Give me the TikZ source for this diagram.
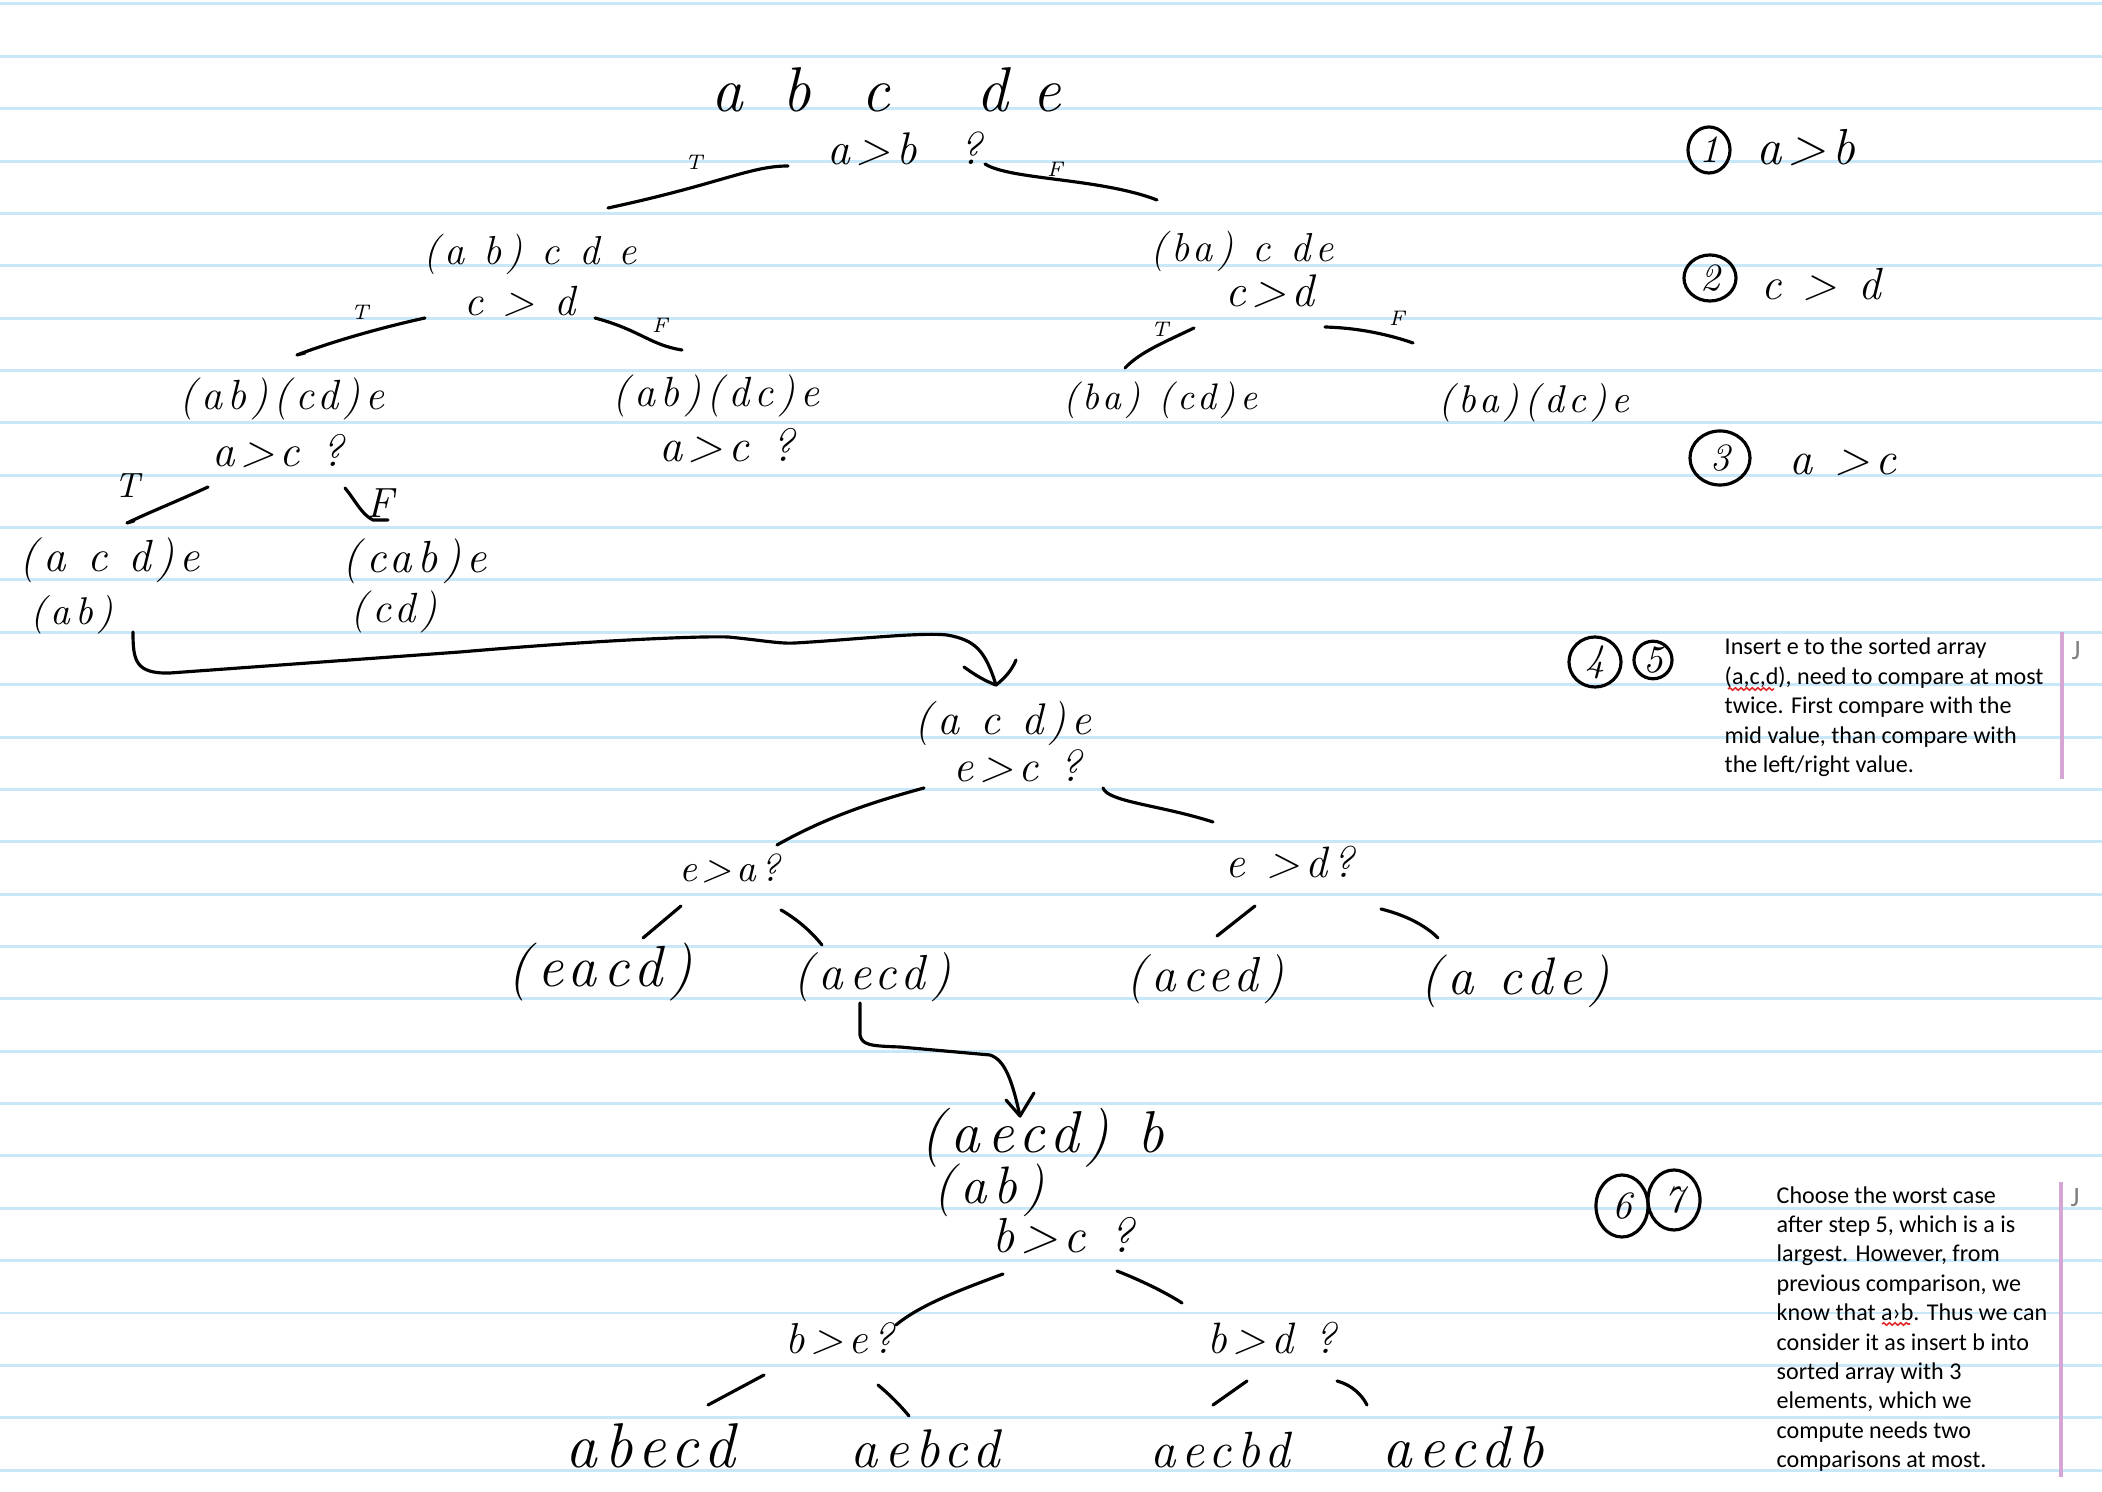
\documentclass[tikz,border=0pt]{standalone}
\usepackage{fontspec}
\newfontfamily\hand[LetterSpace=12]{Latin Modern Roman}
\newfontfamily\notefont{Carlito}
\usetikzlibrary{shapes.geometric,decorations.pathmorphing}
\definecolor{rulecol}{RGB}{200,232,250}
\definecolor{pinkbar}{RGB}{214,166,210}
\definecolor{squig}{RGB}{225,40,40}
\newcommand\hsz[1]{\hand\itshape\fontsize{#1}{#1}\selectfont}
\begin{document}
\begin{tikzpicture}[x=0.01cm,y=-0.01cm,
  hw/.style={inner sep=0pt,anchor=base},
  pen/.style={line width=0.9pt,line cap=round,line join=round},
  rule/.style={rulecol,line width=0.85pt},
  circnum/.style={draw,ellipse,line width=0.9pt,inner sep=0pt,font=\hsz{11}},
  tf/.style={inner sep=0pt,anchor=base,font=\hsz{6}},
  note/.style={inner sep=0pt,anchor=base west,align=left,font=\notefont\fontsize{6.85}{8.36}\selectfont},
  jmark/.style={inner sep=0pt,anchor=base,text=gray,font=\notefont\fontsize{8}{9}\selectfont},
  bar/.style={pinkbar,line width=1.4pt},
  wavy/.style={squig,line width=0.45pt,decorate,decoration={snake,amplitude=0.35pt,segment length=1.6pt}}]
\useasboundingbox (0,0) rectangle (2102,1492);
\fill[white] (0,0) rectangle (2102,1492);
% ruled paper
\foreach \k in {0,...,28} \draw[rule] (0,{4+52.36*\k}) -- (2102,{4+52.36*\k});

% ---------- tree text ----------
\node[hw,anchor=base west,font=\hsz{18}] (top) at (711,112) {a\hspace{3.9mm}b\hspace{5.1mm}c\hspace{8.6mm}d\hspace{2.4mm}e};
\node[hw,font=\hsz{13}] (q1) at (905,165) {a>b\ \ ?};
\node[hw,font=\hsz{11.5}] (L1) at (530,265) {(a b) c d e};
\node[hw,font=\hsz{12}] (q2) at (520,316) {c > d};
\node[hw,font=\hsz{11.5}] (R1) at (1242,262) {(ba) c de};
\node[hw,font=\hsz{13}] (q3) at (1270,307) {c>d};
\node[hw,font=\hsz{12}] (LL) at (282,410) {(ab)(cd)e};
\node[hw,font=\hsz{12.8}] (q4) at (278,467) {a>c ?};
\node[hw,font=\hsz{12}] (LR) at (716,407) {(ab)(dc)e};
\node[hw,font=\hsz{13.2}] (q5) at (727,462) {a>c ?};
\node[hw,font=\hsz{10.5}] (RL) at (1160,410) {(ba) (cd)e};
\node[hw,font=\hsz{11}] (RR) at (1534,413) {(ba)(dc)e};
\node[hw,font=\hsz{12.8}] (LLL) at (110,572) {(a c d)e};
\node[hw,font=\hsz{11}] (LLLb) at (72,625) {(ab)};
\node[hw,font=\hsz{12.8}] (LLR) at (415,573) {(cab)e};
\node[hw,font=\hsz{12}] (LLRb) at (394,623) {(cd)};
\node[hw,font=\hsz{12.6}] (M) at (1003,735) {(a c d)e};
\node[hw,font=\hsz{12.7}] (q6) at (1018,782) {e>c ?};
\node[hw,font=\hsz{11}] (q7) at (730,882) {e>a?};
\node[hw,font=\hsz{12.5}] (q8) at (1290,878) {e >d?};
\node[hw,font=\hsz{16.5}] (m1) at (600,987) {(eacd)};
\node[hw,font=\hsz{14}] (m2) at (872,990) {(aecd)};
\node[hw,font=\hsz{14}] (m3) at (1205,992) {(aced)};
\node[hw,font=\hsz{15}] (m4) at (1515,995) {(a cde)};
\node[hw,font=\hsz{16.8}] (B) at (1042,1153) {(aecd) b};
\node[hw,font=\hsz{15}] (Bb) at (989,1204) {(ab)};
\node[hw,font=\hsz{14}] (q9) at (1063,1253) {b>c ?};
\node[hw,font=\hsz{12.3}] (q10) at (840,1354) {b>e?};
\node[hw,font=\hsz{12.5}] (q11) at (1272,1354) {b>d ?};
\node[hw,font=\hsz{18}] (l1) at (650,1468) {abecd};
\node[hw,font=\hsz{15.5}] (l2) at (925,1468) {aebcd};
\node[hw,font=\hsz{14.5}] (l3) at (1220,1468) {aecbd};
\node[hw,font=\hsz{16.8}] (l4) at (1463,1468) {aecdb};

% T / F labels
\node[tf] (t1) at (694,170) {T};
\node[tf] (f1) at (1055,177) {F};
\node[tf] (t2) at (360,320) {T};
\node[tf] (f2) at (660,333) {F};
\node[tf] (t3) at (1160,337) {T};
\node[tf] (f3) at (1397,326) {F};
\node[tf,font=\hsz{10}] (t4) at (127,498) {T};
\node[tf,font=\hsz{12}] (f4) at (380,518) {F};

% ---------- strokes ----------
\coordinate (a1) at (788,166); \coordinate (a2) at (608,208);
\coordinate (b1) at (985,164); \coordinate (b2) at (1157,200);
\coordinate (c1) at (425,318); \coordinate (c2) at (297,355);
\coordinate (d1) at (595,318); \coordinate (d2) at (682,350);
\coordinate (e1) at (1194,328); \coordinate (e2) at (1125,368);
\coordinate (g1) at (1325,327); \coordinate (g2) at (1413,343);
\coordinate (h1) at (208,487); \coordinate (h2) at (127,523);
\coordinate (i1) at (345,488); \coordinate (i2) at (373,520);
\coordinate (j1) at (924,788); \coordinate (j2) at (777,845);
\coordinate (k1) at (1103,788); \coordinate (k2) at (1213,822);
\coordinate (m1a) at (681,906); \coordinate (m1b) at (643,938);
\coordinate (n1) at (781,910); \coordinate (n2) at (822,945);
\coordinate (o1) at (1255,906); \coordinate (o2) at (1217,936);
\coordinate (p1) at (1381,909); \coordinate (p2) at (1438,938);
\coordinate (r1a) at (1003,1274); \coordinate (r1b) at (896,1325);
\coordinate (s1) at (1117,1271); \coordinate (s2) at (1182,1303);
\coordinate (u1) at (764,1375); \coordinate (u2) at (708,1405);
\coordinate (v1) at (878,1385); \coordinate (v2) at (909,1416);
\coordinate (w1) at (1247,1381); \coordinate (w2) at (1213,1405);
\coordinate (z1) at (1337,1381); \coordinate (z2) at (1367,1405);

\draw[pen] (a1) .. controls (750,166) and (720,184) .. (a2);
\draw[pen] (b1) .. controls (1010,180) and (1100,178) .. (b2);
\draw[pen] (c1) .. controls (370,330) and (320,346) .. (c2) -- (305,353);
\draw[pen] (d1) .. controls (640,330) and (650,345) .. (d2);
\draw[pen] (e1) .. controls (1165,342) and (1140,352) .. (e2);
\draw[pen] (g1) .. controls (1360,328) and (1390,335) .. (g2);
\draw[pen] (h1) .. controls (180,500) and (150,512) .. (h2) -- (134,521);
\draw[pen] (i1) .. controls (355,500) and (362,515) .. (i2) -- (388,520);
\draw[pen] (j1) .. controls (880,800) and (830,815) .. (j2);
\draw[pen] (k1) .. controls (1108,802) and (1160,805) .. (k2);
\draw[pen] (m1a) -- (m1b);
\draw[pen] (n1) .. controls (795,918) and (810,930) .. (n2);
\draw[pen] (o1) -- (o2);
\draw[pen] (p1) .. controls (1405,915) and (1425,925) .. (p2);
\draw[pen] (r1a) .. controls (960,1290) and (920,1305) .. (r1b);
\draw[pen] (s1) .. controls (1140,1280) and (1165,1292) .. (s2);
\draw[pen] (u1) -- (u2);
\draw[pen] (v1) .. controls (890,1395) and (900,1405) .. (v2);
\draw[pen] (w1) -- (w2);
\draw[pen] (z1) .. controls (1352,1385) and (1362,1395) .. (z2);

% long arrow from (ab) to (a c d)e
\coordinate (A0) at (133,632);
\coordinate (A1) at (996,685);
\draw[pen] (A0) .. controls (133,660) and (135,674) .. (170,673)
  -- (460,652) .. controls (600,640) and (700,636) .. (728,637)
  .. controls (760,640) and (780,644) .. (795,643)
  .. controls (850,640) and (920,632) .. (947,635)
  .. controls (975,640) and (985,650) .. (A1);
\draw[pen] (964,667) .. controls (975,675) and (985,681) .. (A1) .. controls (1005,678) and (1012,670) .. (1016,660);

% arrow from (aecd) to (aecd) b
\coordinate (B0) at (860,1003);
\coordinate (B1) at (1020,1116);
\draw[pen] (B0) -- (860,1035) .. controls (862,1045) and (870,1046) .. (900,1047)
  -- (990,1055) .. controls (1005,1060) and (1012,1080) .. (B1);
\draw[pen] (1006,1100) -- (B1) -- (1034,1093);

% ---------- right-hand notes ----------
\node[circnum,minimum width=0.42cm,minimum height=0.46cm] (n1c) at (1709,150) {1};
\node[hw,font=\hsz{14.4}] (r1) at (1806,165) {a>b};
\node[circnum,minimum width=0.52cm,minimum height=0.46cm] (n2c) at (1710,278) {2};
\node[hw,font=\hsz{12.8}] (r2) at (1821,300) {c > d};
\node[circnum,minimum width=0.60cm,minimum height=0.54cm] (n3c) at (1720,458) {3};
\node[hw,font=\hsz{13.2}] (r3) at (1843,475) {a >c};
\node[circnum,minimum width=0.52cm,minimum height=0.50cm] (n4c) at (1595,662) {4};
\node[circnum,minimum width=0.38cm,minimum height=0.36cm] (n5c) at (1653,660) {5};
\node[circnum,minimum width=0.52cm,minimum height=0.62cm] (n6c) at (1622,1206) {6};
\node[circnum,minimum width=0.52cm,minimum height=0.60cm] (n7c) at (1674,1200) {7};

% multi-line notes: base anchor is the baseline of the last line
\node[note] (note1) at (1724,772.6) {Insert e to the sorted array\\(a,c,d), need to compare at most\\twice. First compare with the\\mid value, than compare with\\the left/right value.};
\node[note] (note2) at (1776,1467.6) {Choose the worst case\\after step 5, which is a is\\largest. However, from\\previous comparison, we\\know that a›b. Thus we can\\consider it as insert b into\\sorted array with 3\\elements, which we\\compute needs two\\comparisons at most.};
\draw[wavy] (1728,689) -- (1774,689);
\draw[wavy] (1882,1324) -- (1910,1324);
\draw[bar] (2062,632) -- (2062,779);
\draw[bar] (2061,1182) -- (2061,1477);
\node[jmark] (j1m) at (2076,660) {J};
\node[jmark] (j2m) at (2075,1207) {J};
\end{tikzpicture}
\end{document}
